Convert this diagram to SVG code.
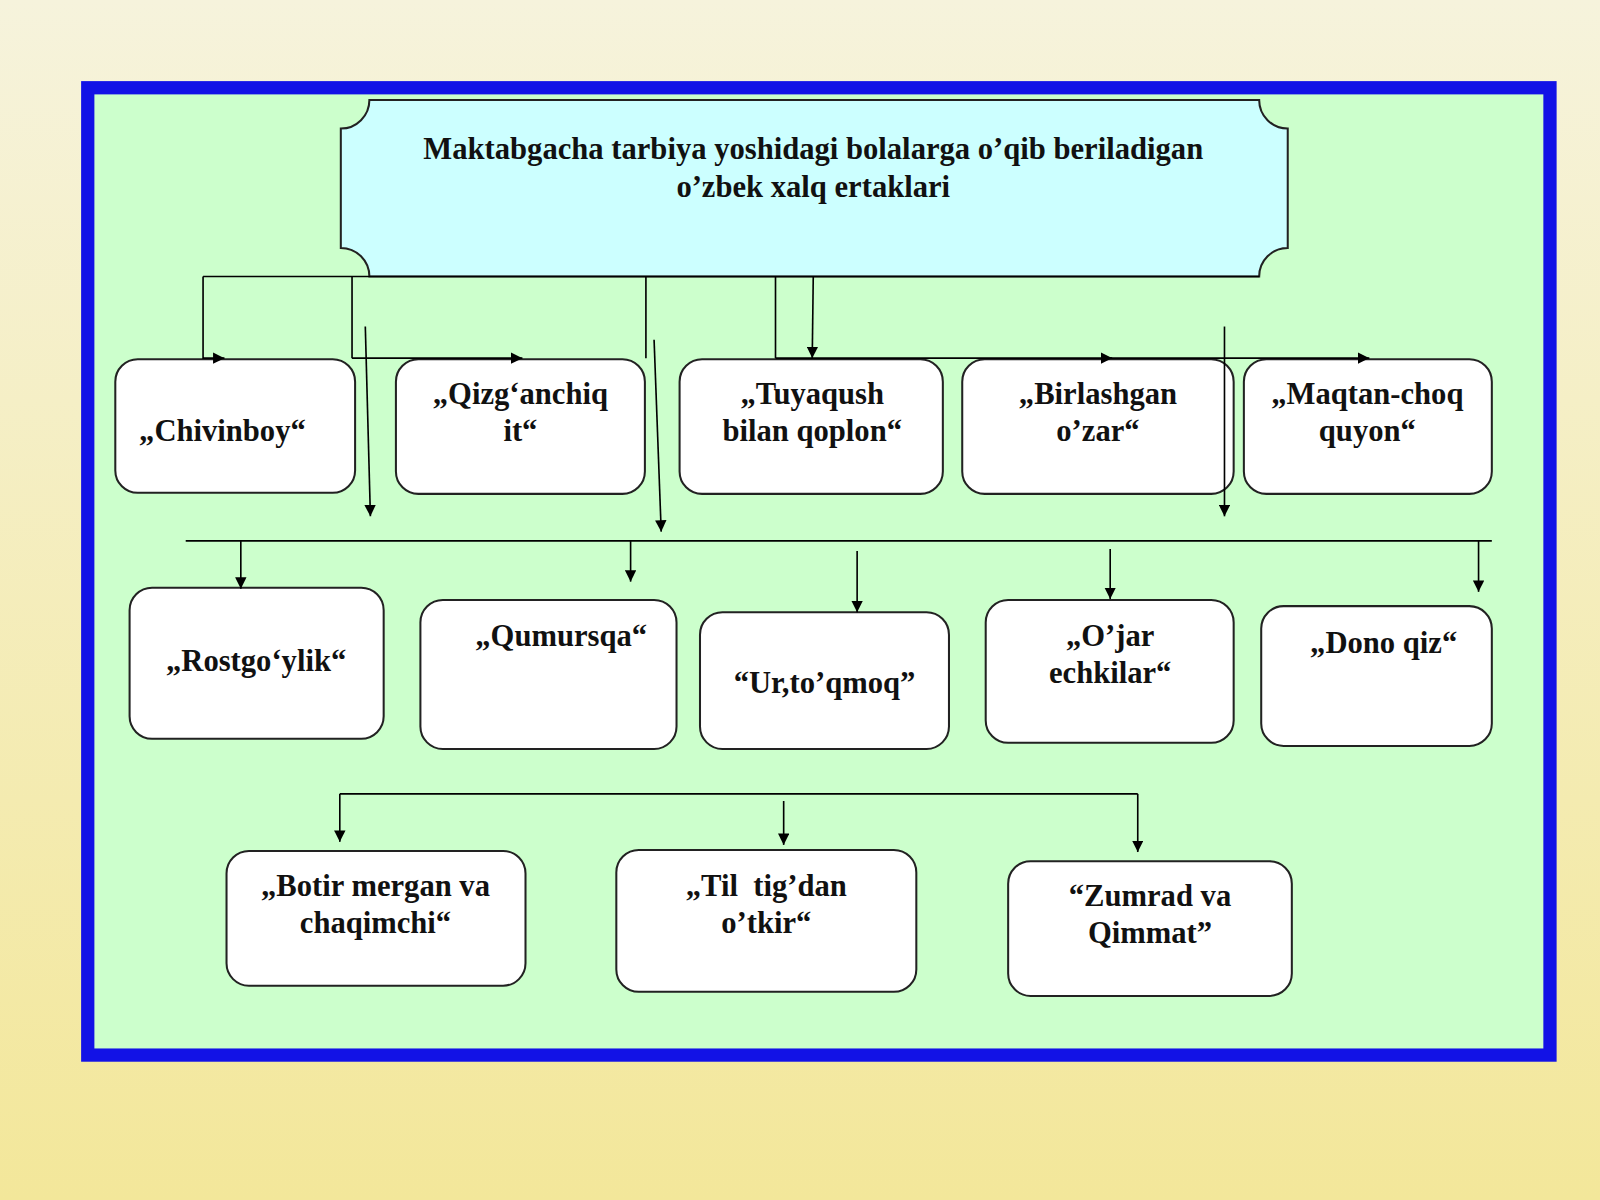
<svg xmlns="http://www.w3.org/2000/svg" width="1600" height="1200" viewBox="0 0 1600 1200">
<defs>
<linearGradient id="bg" x1="0" y1="0" x2="0" y2="1"><stop offset="0" stop-color="#f6f3dc"/><stop offset="1" stop-color="#f3e79a"/></linearGradient>
<marker id="ah" viewBox="0 0 10 10" refX="10" refY="5" markerWidth="7" markerHeight="7" orient="auto"><path d="M0,0L10,5L0,10z" fill="#000"/></marker>
<style>
.box{fill:#fff;stroke:#222;stroke-width:2}
.t{font-family:"Liberation Serif",serif;font-weight:bold;font-size:30px;fill:#111;text-anchor:middle}
.c{stroke:#000;stroke-width:1.6;fill:none}
.a{marker-end:url(#ah)}
</style>
</defs>
<rect width="1600" height="1200" fill="url(#bg)"/>
<g transform="scale(1.0204)">
<rect x="86" y="86" width="1433" height="948" fill="#ccffcc" stroke="#1212e6" stroke-width="13"/>
<g id="title">
<path d="M362,98 H1234 A28,28 0 0 0 1262,126 V243 A28,28 0 0 0 1234,271 H362 A28,28 0 0 0 334,243 V126 A28,28 0 0 0 362,98 Z" fill="#ccffff" stroke="#222" stroke-width="2"/>
<text class="t" x="797" y="156">Maktabgacha tarbiya yoshidagi bolalarga o’qib beriladigan</text>
<text class="t" x="797" y="193">o’zbek xalq ertaklari</text>
</g>
<g id="n1"><rect class="box" x="113" y="352" width="235" height="131" rx="22"/><text class="t" x="218" y="432">„Chivinboy“</text></g>
<g id="n2"><rect class="box" x="388" y="352" width="244" height="132" rx="22"/><text class="t" x="510" y="396">„Qizg‘anchiq</text><text class="t" x="510" y="432">it“</text></g>
<g id="n3"><rect class="box" x="666" y="352" width="258" height="132" rx="22"/><text class="t" x="796" y="396">„Tuyaqush</text><text class="t" x="796" y="432">bilan qoplon“</text></g>
<g id="n4"><rect class="box" x="943" y="352" width="266" height="132" rx="22"/><text class="t" x="1076" y="396">„Birlashgan</text><text class="t" x="1076" y="432">o’zar“</text></g>
<g id="n5"><rect class="box" x="1219" y="352" width="243" height="132" rx="22"/><text class="t" x="1340" y="396">„Maqtan-choq</text><text class="t" x="1340" y="432">quyon“</text></g>
<g id="n6"><rect class="box" x="127" y="576" width="249" height="148" rx="22"/><text class="t" x="251" y="658">„Rostgo‘ylik“</text></g>
<g id="n7"><rect class="box" x="412" y="588" width="251" height="146" rx="22"/><text class="t" x="550" y="633">„Qumursqa“</text></g>
<g id="n8"><rect class="box" x="686" y="600" width="244" height="134" rx="22"/><text class="t" x="808" y="679">“Ur,to’qmoq”</text></g>
<g id="n9"><rect class="box" x="966" y="588" width="243" height="140" rx="22"/><text class="t" x="1088" y="633">„O’jar</text><text class="t" x="1088" y="669">echkilar“</text></g>
<g id="n10"><rect class="box" x="1236" y="594" width="226" height="137" rx="22"/><text class="t" x="1356" y="640">„Dono qiz“</text></g>
<g id="n11"><rect class="box" x="222" y="834" width="293" height="132" rx="22"/><text class="t" x="368" y="878">„Botir mergan va</text><text class="t" x="368" y="914">chaqimchi“</text></g>
<g id="n12"><rect class="box" x="604" y="833" width="294" height="139" rx="22"/><text class="t" x="751" y="878" xml:space="preserve">„Til  tig’dan</text><text class="t" x="751" y="914">o’tkir“</text></g>
<g id="n13"><rect class="box" x="988" y="844" width="278" height="132" rx="22"/><text class="t" x="1127" y="888">“Zumrad va</text><text class="t" x="1127" y="924">Qimmat”</text></g>
<g id="connectors">
<path class="c" d="M199,271 H1234"/>
<path class="c a" d="M199,271 V351 H220"/>
<path class="c" d="M345,271 V351 M633,271 V351 M760,271 V351"/>
<path class="c a" d="M345,351 H512"/>
<path class="c a" d="M760,351 H1090"/>
<path class="c a" d="M1088,351 H1342"/>
<path class="c a" d="M797,271 L796,351"/>
<path class="c a" d="M358,320 L363,506"/>
<path class="c a" d="M641,333 L648,521"/>
<path class="c a" d="M1200,320 V506"/>
<path class="c" d="M182,530 H1462"/>
<path class="c a" d="M236,530 V577"/>
<path class="c a" d="M618,530 V570"/>
<path class="c a" d="M840,540 V600"/>
<path class="c a" d="M1088,538 V587"/>
<path class="c a" d="M1449,530 V580"/>
<path class="c" d="M333,778 H1115"/>
<path class="c a" d="M333,778 V825"/>
<path class="c a" d="M768,785 V828"/>
<path class="c a" d="M1115,778 V835"/>
</g>
</g>
</svg>
